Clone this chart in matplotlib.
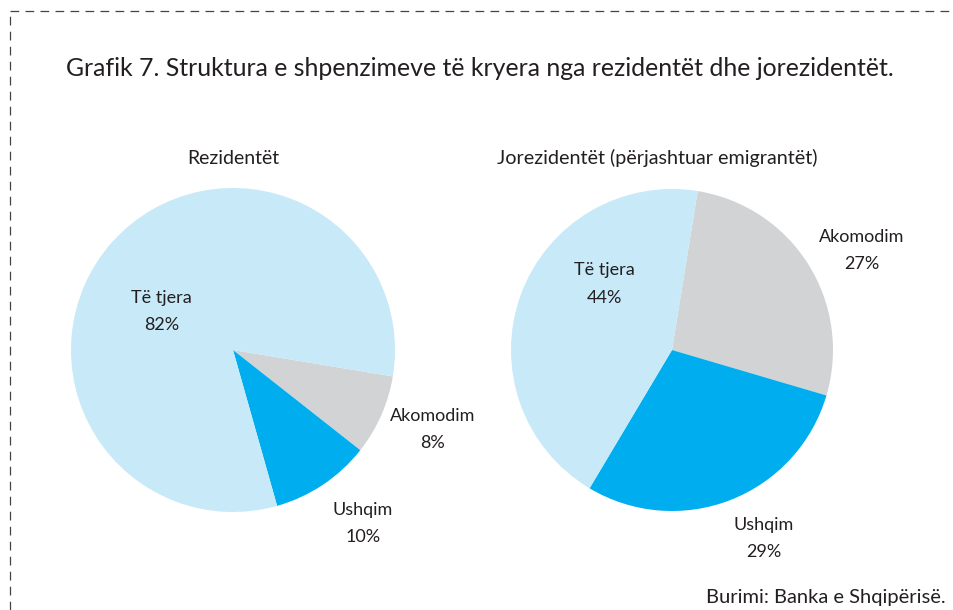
import matplotlib
matplotlib.use("Agg")
import matplotlib.pyplot as plt
from matplotlib.lines import Line2D

plt.rcParams['font.family'] = ['Lato', 'DejaVu Sans']

# data
categories = ["Akomodim", "Ushqim", "Të tjera"]
res_values = [8, 10, 82]
nonres_values = [27, 29, 44]
res_title = "Rezidentët"
nonres_title = "Jorezidentët (përjashtuar emigrantët)"
colors = ["#d1d3d4", "#00aeef", "#c7e9f8"]
title = "Grafik 7. Struktura e shpenzimeve të kryera nga rezidentët dhe jorezidentët."
source = "Burimi: Banka e Shqipërisë."

txt_col = "#231f20"
W, H = 954, 610

fig = plt.figure(figsize=(W / 100, H / 100), dpi=100)


def pie_axes(cx, cy, r):
    # cx, cy in pixels from top-left
    return fig.add_axes([(cx - r) / W, (H - cy - r) / H, 2 * r / W, 2 * r / H])


def draw_pie(ax, values, start, label_pos):
    ax.pie(values, colors=colors, startangle=start, counterclock=False,
           radius=1, wedgeprops=dict(linewidth=0))
    ax.set_xlim(-1, 1)
    ax.set_ylim(-1, 1)
    ax.set_aspect('equal')
    ax.axis('off')
    for name, v, (x, y) in zip(categories, values, label_pos):
        ax.text(x, y, "{}\n{}%".format(name, v), ha='center', va='center',
                fontsize=13, color=txt_col, linespacing=1.85, clip_on=False)


ax1 = pie_axes(233, 350, 162)
draw_pie(ax1, res_values, -9.4,
         [(1.23, -0.49), (0.80, -1.07), (-0.44, 0.235)])

ax2 = pie_axes(672, 350, 161)
draw_pie(ax2, nonres_values, 80.8,
         [(1.18, 0.62), (0.57, -1.17), (-0.42, 0.41)])

fig.text(66 / W, 1 - 69 / H, title, ha='left', va='center', fontsize=17.9,
         color=txt_col)
fig.text(233 / W, 1 - 158 / H, res_title, ha='center', va='center',
         fontsize=14, color=txt_col)
fig.text(657 / W, 1 - 158 / H, nonres_title, ha='center', va='center',
         fontsize=14.2, color=txt_col)
fig.text(946 / W, 1 - 598 / H, source, ha='right', va='center',
         fontsize=14.5, color=txt_col)

# dashed frame (top and left)
dash = dict(color="#444444", linewidth=0.9, linestyle=(0, (7, 5)))
fig.add_artist(Line2D([10 / W, 1], [1 - 11 / H, 1 - 11 / H],
                      transform=fig.transFigure, **dash))
fig.add_artist(Line2D([10 / W, 10 / W], [0, 1 - 11 / H],
                      transform=fig.transFigure, **dash))

fig.savefig("out.png", dpi=100)
